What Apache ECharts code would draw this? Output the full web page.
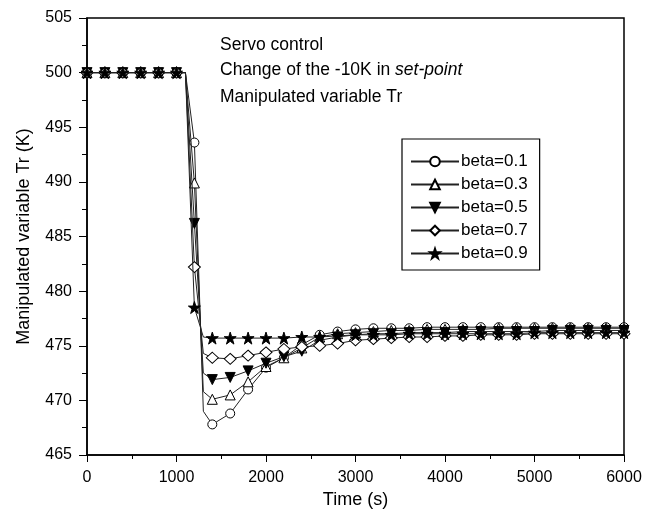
<!DOCTYPE html>
<html>
<head>
<meta charset="utf-8">
<script src="https://cdn.jsdelivr.net/npm/echarts@6/dist/echarts.min.js"></script>
<style>html,body{margin:0;padding:0;background:#fff;}#c{width:655px;height:511px;}</style>
</head>
<body>
<div id="c"></div>
<script>
var times = [0,200,400,600,800,1000,1100,1200,1300,1400,1600,1800,2000,2200,2400,2600,2800,3000,3200,3400,3600,3800,4000,4200,4400,4600,4800,5000,5200,5400,5600,5800,6000];
var beta01 = [500,500,500,500,500,500,500,493.6,469.0,467.8,468.8,471.0,473.0,473.9,475.1,476.0,476.3,476.5,476.6,476.6,476.6,476.7,476.7,476.7,476.7,476.7,476.7,476.7,476.7,476.7,476.7,476.7,476.7];
var beta03 = [500,500,500,500,500,500,500,489.9,470.8,470.1,470.5,471.7,473.1,473.9,474.8,475.8,476.1,476.2,476.3,476.4,476.4,476.5,476.5,476.5,476.5,476.6,476.6,476.6,476.6,476.6,476.6,476.6,476.6];
var beta05 = [500,500,500,500,500,500,500,486.2,472.5,471.9,472.1,472.7,473.4,474.0,474.5,475.5,475.8,476.0,476.1,476.1,476.2,476.2,476.2,476.3,476.3,476.3,476.3,476.3,476.4,476.4,476.4,476.4,476.4];
var beta07 = [500,500,500,500,500,500,500,482.2,474.3,473.9,473.8,474.1,474.4,474.7,474.9,475.0,475.2,475.5,475.6,475.7,475.8,475.8,475.9,475.9,476.0,476.0,476.0,476.1,476.1,476.1,476.1,476.1,476.1];
var beta09 = [500,500,500,500,500,500,500,478.5,475.8,475.7,475.7,475.7,475.7,475.7,475.8,475.8,475.9,476.0,476.0,476.0,476.1,476.1,476.1,476.1,476.1,476.1,476.1,476.2,476.2,476.2,476.2,476.2,476.2];
var seriesNames = ['beta=0.1','beta=0.3','beta=0.5','beta=0.7','beta=0.9'];
var annotations = ['Servo control', 'Change of the -10K in ', 'set-point', 'Manipulated variable Tr'];

var STAR = 'path://M50,0 L61.8,35.5 L99,35.5 L69,57.5 L80.5,93 L50,71 L19.5,93 L31,57.5 L1,35.5 L38.2,35.5 Z';
var styles = [
  {symbol:'circle', size:9, fill:'#fff', rot:0},
  {symbol:'triangle', size:10, fill:'#fff', rot:0},
  {symbol:'triangle', size:10, fill:'#000', rot:180},
  {symbol:'diamond', size:[12,11], fill:'#fff', rot:0},
  {symbol:STAR, size:12, fill:'#000', rot:0}
];
var allData = [beta01,beta03,beta05,beta07,beta09];

function build(vals){
  return times.map(function(t,i){
    var item = {value:[t, vals[i]]};
    if (t % 200 !== 0) item.symbol = 'none';
    return item;
  });
}

var series = allData.map(function(vals, k){
  var st = styles[k];
  return {
    name: seriesNames[k],
    type: 'line',
    data: build(vals),
    symbol: st.symbol,
    symbolSize: st.size,
    symbolRotate: st.rot,
    showAllSymbol: true,
    lineStyle: {color:'#222', width:1},
    itemStyle: {color: st.fill, borderColor:'#000', borderWidth:1},
    z: 2 + k,
    animation: false
  };
});

var chart = echarts.init(document.getElementById('c'), null, {renderer:'canvas'});
var font = 'Liberation Sans, Arial, Helvetica, sans-serif';
chart.setOption({
  animation: false,
  textStyle: {fontFamily: font},
  grid: {left:87, right:31, top:18, bottom:56, containLabel:false, outerBoundsMode:'none', show:true, borderColor:'#000', borderWidth:1.5, backgroundColor:'transparent'},
  xAxis: {
    type:'value', min:0, max:6000, interval:1000,
    name:'Time (s)', nameLocation:'middle', nameGap:35,
    nameTextStyle:{fontSize:18, color:'#000', fontFamily:font},
    axisLine:{show:true, lineStyle:{color:'#000', width:1.5}},
    axisTick:{show:true, inside:false, length:7, lineStyle:{color:'#000', width:1}},
    minorTick:{show:true, splitNumber:2, length:4, lineStyle:{color:'#000', width:1}},
    axisLabel:{fontSize:16, color:'#000', margin:15, fontFamily:font, formatter:function(v){return String(v);}},
    splitLine:{show:false}
  },
  yAxis: {
    type:'value', min:465, max:505, interval:5,
    name:'Manipulated variable Tr (K)', nameLocation:'middle', nameGap:54, nameRotate:90,
    nameTextStyle:{fontSize:18, color:'#000', fontFamily:font},
    axisLine:{show:true, lineStyle:{color:'#000', width:1.5}},
    axisTick:{show:true, inside:false, length:8, lineStyle:{color:'#000', width:1}},
    minorTick:{show:true, splitNumber:2, length:5, lineStyle:{color:'#000', width:1}},
    axisLabel:{fontSize:16, color:'#000', margin:15, fontFamily:font},
    splitLine:{show:false}
  },
  legend: {
    orient:'vertical', left:402, top:139,
    data: seriesNames,
    itemWidth:48, itemHeight:12, itemGap:6,
    padding:[14,12,8,8],
    borderColor:'#000', borderWidth:1.2, backgroundColor:'#fff',
    textStyle:{fontSize:17, color:'#000', fontFamily:font, padding:[0,0,0,-3]},
    selectedMode:false
  },
  graphic: [
    {type:'text', left:220, top:36, style:{text:annotations[0], font:'17.5px '+font, fill:'#000'}},
    {type:'text', left:220, top:61, style:{rich:{n:{fontSize:17.5, fontFamily:font, fill:'#000'}, i:{fontSize:17.5, fontFamily:font, fontStyle:'italic', fill:'#000'}}, text:'{n|'+annotations[1]+'}{i|'+annotations[2]+'}'}},
    {type:'text', left:220, top:88, style:{text:annotations[3], font:'17.5px '+font, fill:'#000'}}
  ],
  series: series
});
</script>
</body>
</html>
